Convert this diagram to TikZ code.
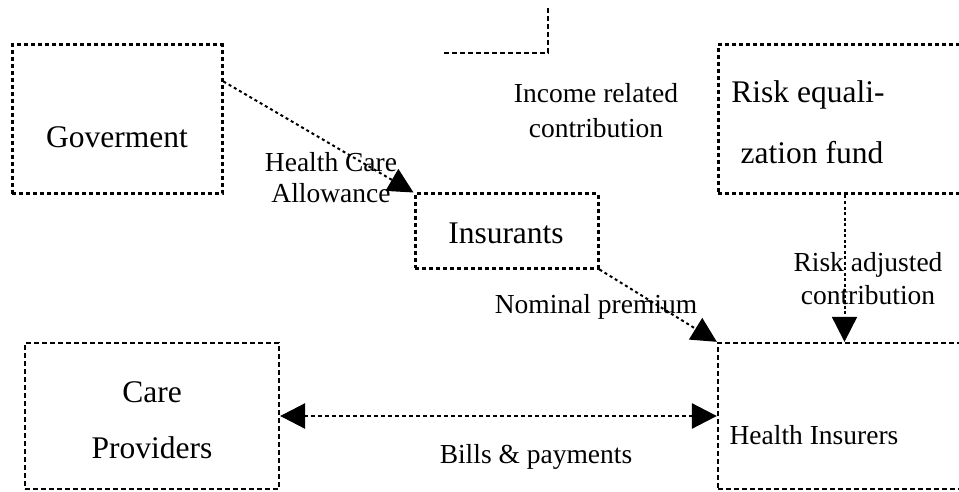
\documentclass[tikz,border=0pt]{standalone}
\usepackage{fontspec}
\setmainfont{Liberation Serif}
\usetikzlibrary{arrows.meta,calc}
\tikzset{
  boxthick/.style={draw, line width=3pt, dash pattern=on 4pt off 3pt, inner sep=0pt, rectangle},
  boxthin/.style={draw, line width=2.3pt, dash pattern=on 5pt off 3pt, inner sep=0pt, rectangle},
  conn/.style={line width=2pt, dash pattern=on 3pt off 3pt, -{Triangle[length=25pt,width=25pt]}},
  connv/.style={line width=2pt, dash pattern=on 3pt off 2.5pt, -{Triangle[length=25pt,width=25pt]}},
  bothtip/.style={line width=2.8pt, dash pattern=on 4pt off 3pt, {Triangle[length=25pt,width=25pt]}-{Triangle[length=25pt,width=25pt]}},
  big/.style={font=\fontsize{31.5}{36}\selectfont, inner sep=0pt},
  small/.style={font=\fontsize{27.5}{31}\selectfont, inner sep=0pt},
}
\begin{document}
\begin{tikzpicture}[x=1pt,y=-1pt]
\path[use as bounding box] (0,0) rectangle (959,492);
\clip (0,0) rectangle (959,492);
% boxes
\node[boxthick, minimum width=210pt, minimum height=149pt] (gov) at (117,119.5) {};
\node[boxthick, minimum width=253pt, minimum height=149pt] (risk) at (844.5,119.5) {};
\node[boxthick, minimum width=183pt, minimum height=74pt] (ins) at (506.5,231) {};
\node[boxthin, minimum width=257pt, minimum height=146pt] (hi) at (846.5,416) {};
\node[boxthin, minimum width=254pt, minimum height=146pt] (cp) at (152,416) {};
% partial box at the top
\coordinate (tl) at (444,53);
\coordinate (tc) at (548,53);
\coordinate (tt) at (548,8);
\draw[line width=2.3pt, dash pattern=on 5pt off 3pt] (tl) -- (tc) -- (tt);
% texts
\node[big] (tgov) at (117,137) {Goverment};
\node[big] (tins) at (506,233) {Insurants};
\node[big] (trisk1) at (808,95) {Risk equali-};
\node[big] (trisk2) at (812,153) {zation fund};
\node[big] (tcp1) at (152,392) {Care};
\node[big] (tcp2) at (152,448) {Providers};
\node[small] (thi) at (814,435) {Health Insurers};
\node[small] (tinc1) at (596,93) {Income related};
\node[small] (tinc2) at (596,128) {contribution};
\node[small] (thca1) at (331,162) {Health Care};
\node[small] (thca2) at (331,193) {Allowance};
\node[small] (tra1) at (868,265) {Risk adjusted};
\node[small] (tra2) at (868,295) {contribution};
\node[small] (tnom) at (596,307) {Nominal premium};
\node[small] (tbill) at (536,457) {Bills \& payments};
% connectors
\draw[conn] ($(gov.north east)!0.25!(gov.south east)$) -- (ins.north west);
\draw[conn] (ins.south east) -- (hi.north west);
\draw[connv] (risk.south) -- (risk.south |- hi.north);
\draw[bothtip] (cp.east) -- (hi.west);
\end{tikzpicture}
\end{document}
